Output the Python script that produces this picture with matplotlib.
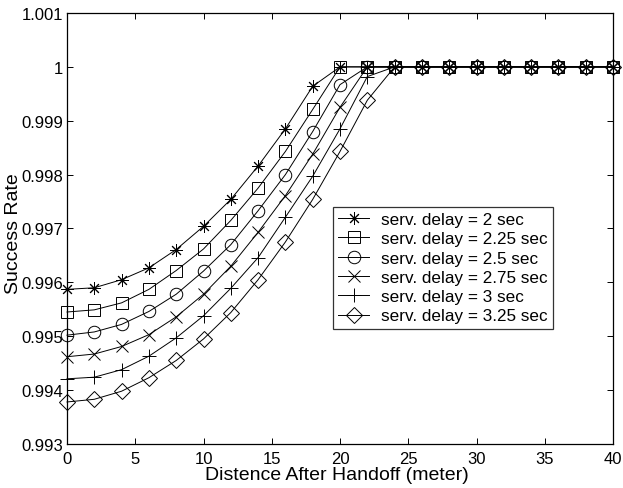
"""Success rate versus distance after handoff for several service delays."""

import matplotlib

matplotlib.use("Agg")
import matplotlib.pyplot as plt
import numpy as np

distance = np.arange(0, 42, 2)

labels = [
    "serv. delay = 2 sec",
    "serv. delay = 2.25 sec",
    "serv. delay = 2.5 sec",
    "serv. delay = 2.75 sec",
    "serv. delay = 3 sec",
    "serv. delay = 3.25 sec",
]

tail = [1.0] * 9  # x = 24 .. 40

delay_200 = [0.99587, 0.99590, 0.99605, 0.99627, 0.99661, 0.99704, 0.99754,
             0.99816, 0.99885, 0.99964, 1.0, 1.0] + tail
delay_225 = [0.99545, 0.99549, 0.99562, 0.99587, 0.99622, 0.99662, 0.99715,
             0.99775, 0.99843, 0.99921, 1.0, 1.0] + tail
delay_250 = [0.99502, 0.99508, 0.99522, 0.99546, 0.99578, 0.99621, 0.99670,
             0.99733, 0.99800, 0.99880, 0.99967, 1.0] + tail
delay_275 = [0.99462, 0.99467, 0.99481, 0.99503, 0.99536, 0.99578, 0.99630,
             0.99693, 0.99761, 0.99838, 0.99925, 1.0] + tail
delay_300 = [0.99421, 0.99424, 0.99438, 0.99463, 0.99497, 0.99538, 0.99589,
             0.99646, 0.99721, 0.99797, 0.99885, 0.99982] + tail
delay_325 = [0.99378, 0.99383, 0.99398, 0.99423, 0.99455, 0.99495, 0.99544,
             0.99605, 0.99675, 0.99754, 0.99843, 0.99938] + tail

series = [delay_200, delay_225, delay_250, delay_275, delay_300, delay_325]
markers = [(8, 2, 0), "s", "o", "x", "+", "D"]
marker_sizes = [9, 8, 9, 8, 10, 8]

plt.rcParams["font.family"] = ["Liberation Sans", "DejaVu Sans"]

fig = plt.figure(figsize=(6.23, 4.89), dpi=100)
ax = fig.add_axes([67 / 623, 1 - 445 / 489, 546 / 623, 431 / 489])

for values, label, marker, ms in zip(series, labels, markers, marker_sizes):
    ax.plot(distance, values, color="black", linewidth=0.7, marker=marker,
            markersize=ms, markerfacecolor="none", markeredgecolor="black",
            markeredgewidth=0.7, label=label, clip_on=False)

ax.set_xlim(0, 40)
ax.set_ylim(0.993, 1.001)
ax.set_xticks(np.arange(0, 45, 5))
ax.set_yticks(np.arange(0.993, 1.0011, 0.001))
ax.set_yticklabels(["0.993", "0.994", "0.995", "0.996", "0.997", "0.998",
                    "0.999", "1", "1.001"])
ax.tick_params(direction="in", top=True, right=True, length=4, width=0.7,
               labelsize=12)
ax.tick_params(axis="x", pad=5)
ax.tick_params(axis="y", pad=3)
for spine in ax.spines.values():
    spine.set_linewidth(0.9)

ax.set_xlabel("Distence After Handoff (meter)", fontsize=14)
ax.set_ylabel("Success Rate", fontsize=14)
ax.xaxis.set_label_coords(0.495, -0.051)
ax.yaxis.set_label_coords(-0.082, 0.49)

leg = ax.legend(loc="upper left", bbox_to_anchor=((333 - 67) / 546, (445 - 208) / 431),
                fontsize=12.3, frameon=True, fancybox=False, edgecolor="black",
                handlelength=1.8, labelspacing=0.25, borderpad=0.3,
                handletextpad=0.7, borderaxespad=0)
leg.get_frame().set_linewidth(0.9)

fig.savefig("out.png", dpi=100)
plt.close(fig)
